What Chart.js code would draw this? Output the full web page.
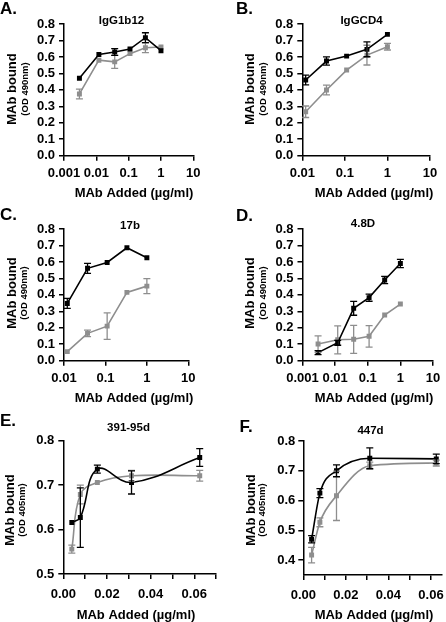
<!DOCTYPE html>
<html>
<head>
<meta charset="utf-8">
<script src="https://cdn.jsdelivr.net/npm/chart.js@4.4.0/dist/chart.umd.min.js"></script>
<style>
html, body { margin: 0; padding: 0; background: #fff; }
#wrap { position: relative; width: 446px; height: 622px; overflow: hidden; }
canvas { position: absolute; }
</style>
</head>
<body>
<div id="wrap">
  <canvas id="chartA" width="223" height="205" style="left:0;top:0"></canvas>
  <canvas id="chartB" width="223" height="205" style="left:223px;top:0"></canvas>
  <canvas id="chartC" width="223" height="205" style="left:0;top:205px"></canvas>
  <canvas id="chartD" width="223" height="205" style="left:223px;top:205px"></canvas>
  <canvas id="chartE" width="223" height="212" style="left:0;top:410px"></canvas>
  <canvas id="chartF" width="223" height="212" style="left:223px;top:410px"></canvas>
</div>
<script>
// A. IgG1b12
const xA = [0.003, 0.012, 0.037, 0.11, 0.33, 1];
const blackA = [0.47, 0.615, 0.63, 0.648, 0.717, 0.638];
const blackErrA = [0, 0, 0.02, 0, 0.03, 0];
const grayA = [0.375, 0.58, 0.57, 0.62, 0.656, 0.66];
const grayErrA = [0.03, 0, 0.04, 0, 0.03, 0];

// B. IgGCD4
const xB = [0.012, 0.037, 0.11, 0.33, 1];
const blackB = [0.46, 0.575, 0.605, 0.646, 0.737];
const blackErrB = [0.03, 0.025, 0, 0.045, 0];
const grayB = [0.267, 0.399, 0.52, 0.611, 0.662];
const grayErrB = [0.035, 0.03, 0, 0.06, 0.02];

// C. 17b
const xC = [0.012, 0.037, 0.11, 0.33, 1];
const blackC = [0.348, 0.561, 0.597, 0.686, 0.625];
const blackErrC = [0.03, 0.03, 0, 0, 0];
const grayC = [0.055, 0.166, 0.21, 0.415, 0.453];
const grayErrC = [0, 0.02, 0.08, 0, 0.045];

// D. 4.8D
const xD = [0.003, 0.012, 0.037, 0.11, 0.33, 1];
const blackD = [0.049, 0.109, 0.318, 0.383, 0.49, 0.59];
const blackErrD = [0.012, 0.015, 0.042, 0.022, 0.022, 0.025];
const grayD = [0.101, 0.127, 0.13, 0.148, 0.277, 0.344];
const grayErrD = [0.05, 0.085, 0.085, 0.065, 0, 0];

// E. 391-95d
const xE = [0.0039, 0.0078, 0.0156, 0.03125, 0.0625];
const blackE = [0.616, 0.627, 0.736, 0.706, 0.762];
const blackErrE = [0, 0.067, 0.009, 0.026, 0.02];
const grayE = [0.556, 0.679, 0.706, 0.721, 0.721];
const grayErrE = [0.009, 0.021, 0, 0.012, 0.012];

// F. 447d
const xF = [0.0039, 0.0078, 0.0156, 0.03125, 0.0625];
const blackF = [0.47, 0.625, 0.70, 0.742, 0.74];
const blackErrF = [0.012, 0.015, 0.02, 0.035, 0.016];
const grayF = [0.417, 0.527, 0.616, 0.717, 0.726];
const grayErrF = [0.026, 0.015, 0.083, 0.012, 0.01];

// tick values and labels
const yTicks08 = [0, 0.1, 0.2, 0.3, 0.4, 0.5, 0.6, 0.7, 0.8];
const yTicksE = [0.5, 0.6, 0.7, 0.8];
const yTicksF = [0.4, 0.5, 0.6, 0.7, 0.8];
const xTicksLog3 = [0.001, 0.01, 0.1, 1, 10];
const xLabelsLog3 = ['0.001', '0.01', '0.1', '1', '10'];
const xTicksLog2 = [0.01, 0.1, 1, 10];
const xLabelsLog2 = ['0.01', '0.1', '1', '10'];
const xTicksE = [0, 0.01, 0.02, 0.03, 0.04, 0.05, 0.06, 0.07];
const xTicksF = [0, 0.01, 0.02, 0.03, 0.04, 0.05, 0.06];
const xLabelsLin = ['0.00', '', '0.02', '', '0.04', '', '0.06', ''];

const FONT = "'Liberation Sans', Arial, Helvetica, sans-serif";
const BLACK = '#000';
const GRAY = '#8e8e8e';

Chart.defaults.font.family = FONT;
Chart.defaults.animation = false;

const errorBars = {
    id: 'errorBars',
    afterDatasetsDraw(chart) {
        const ctx = chart.ctx;
        const xs = chart.scales.x, ys = chart.scales.y;
        for (let d = chart.data.datasets.length - 1; d >= 0; d--) {
            const ds = chart.data.datasets[d];
            if (!ds.err) continue;
            ctx.save();
            ctx.strokeStyle = ds.borderColor;
            ctx.lineWidth = 1.3;
            ds.data.forEach((p, i) => {
                const e = ds.err[i];
                if (!e) return;
                const px = xs.getPixelForValue(p.x);
                const top = ys.getPixelForValue(p.y + e);
                const bot = ys.getPixelForValue(p.y - e);
                ctx.beginPath();
                ctx.moveTo(px, top); ctx.lineTo(px, bot);
                ctx.moveTo(px - 3.5, top); ctx.lineTo(px + 3.5, top);
                ctx.moveTo(px - 3.5, bot); ctx.lineTo(px + 3.5, bot);
                ctx.stroke();
            });
            ctx.restore();
        }
    }
};

// letters, titles and axis titles
function panelText(t) {
    return {
        id: 'panelText',
        afterDraw(chart) {
            const ctx = chart.ctx;
            ctx.save();
            ctx.fillStyle = '#000';
            ctx.textBaseline = 'alphabetic';
            ctx.textAlign = 'left';
            ctx.font = 'bold 17px ' + FONT;
            ctx.fillText(t.letter, t.lx, t.ly);
            ctx.textAlign = 'center';
            ctx.font = 'bold 11.5px ' + FONT;
            ctx.fillText(t.title, t.tx, t.ty);
            ctx.font = 'bold 13px ' + FONT;
            ctx.fillText('MAb Added (\u00b5g/ml)', t.xx, t.xy);
            ctx.save();
            ctx.translate(t.yx, t.yy);
            ctx.rotate(-Math.PI / 2);
            ctx.textBaseline = 'middle';
            ctx.fillText('MAb bound', 0, 0);
            ctx.restore();
            ctx.save();
            ctx.translate(t.sx, t.yy);
            ctx.rotate(-Math.PI / 2);
            ctx.textBaseline = 'middle';
            ctx.font = 'bold 9.5px ' + FONT;
            ctx.fillText(t.sub, 0, 0);
            ctx.restore();
            ctx.restore();
        }
    };
}

function yScale(min, max, ticks, width, pad) {
    return {
        type: 'linear', min, max,
        afterBuildTicks: s => { s.ticks = ticks.map(v => ({ value: v })); },
        afterFit: s => { s.width = width; s.paddingTop = 0; s.paddingBottom = 0; },
        ticks: { callback: v => v.toFixed(1), autoSkip: false, color: '#000', font: { size: 13, weight: 'bold' }, padding: pad },
        grid: { drawOnChartArea: false, tickLength: 5, color: '#000', lineWidth: 1.5 },
        border: { color: '#000', width: 1.5 }
    };
}

function xScale(type, min, max, ticks, labels, height, pad) {
    return {
        type, min, max,
        afterBuildTicks: s => { s.ticks = ticks.map(v => ({ value: v })); },
        afterFit: s => { s.height = height; s.paddingLeft = 0; s.paddingRight = 0; },
        ticks: { callback: (v, i) => labels[i], autoSkip: false, maxRotation: 0, color: '#000', font: { size: 13, weight: 'bold' }, padding: pad },
        grid: { drawOnChartArea: false, tickLength: 5, color: '#000', lineWidth: 1.5 },
        border: { color: '#000', width: 1.5 }
    };
}

function series(xs, ys, errs, color, extra) {
    return Object.assign({
        data: xs.map((x, i) => ({ x, y: ys[i] })),
        err: errs,
        borderColor: color,
        backgroundColor: color,
        borderWidth: 1.6,
        pointStyle: 'rect',
        pointRadius: 3.5,
        pointBorderWidth: 0,
        showLine: true,
        tension: 0
    }, extra || {});
}

function makePanel(id, p) {
    new Chart(document.getElementById(id), {
        type: 'scatter',
        data: {
            datasets: [
                series(p.x, p.black, p.blackErr, BLACK, p.line),
                series(p.x, p.gray, p.grayErr, GRAY, p.line)
            ]
        },
        options: {
            responsive: false,
            layout: { padding: { left: 0, top: p.top, right: p.right, bottom: 0 } },
            plugins: { legend: { display: false }, tooltip: { enabled: false } },
            scales: { x: p.xs, y: p.ys }
        },
        plugins: [errorBars, panelText(p.text)]
    });
}

makePanel('chartA', {
    x: xA, black: blackA, blackErr: blackErrA, gray: grayA, grayErr: grayErrA,
    top: 24, right: 29.7,
    xs: xScale('logarithmic', 0.001, 10, xTicksLog3, xLabelsLog3, 49.3, 5),
    ys: yScale(0, 0.8, yTicks08, 64, 4),
    text: { letter: 'A.', lx: 0, ly: 14, title: 'IgG1b12', tx: 121.5, ty: 24, xx: 134, xy: 197, yx: 12.5, sx: 25, yy: 89, sub: '(OD 490nm)' }
});

makePanel('chartB', {
    x: xB, black: blackB, blackErr: blackErrB, gray: grayB, grayErr: grayErrB,
    top: 24, right: 16,
    xs: xScale('logarithmic', 0.01, 10, xTicksLog2, xLabelsLog2, 49.3, 5),
    ys: yScale(0, 0.8, yTicks08, 79.3, 4),
    text: { letter: 'B.', lx: 13, ly: 14, title: 'IgGCD4', tx: 138.5, ty: 24, xx: 151, xy: 197, yx: 27.5, sx: 40.3, yy: 89, sub: '(OD 490nm)' }
});

makePanel('chartC', {
    x: xC, black: blackC, blackErr: blackErrC, gray: grayC, grayErr: grayErrC,
    top: 24, right: 34.7,
    xs: xScale('logarithmic', 0.01, 10, xTicksLog2, xLabelsLog2, 49.3, 5),
    ys: yScale(0, 0.8, yTicks08, 64, 4),
    text: { letter: 'C.', lx: 0, ly: 15, title: '17b', tx: 130, ty: 23.5, xx: 134, xy: 197, yx: 12.5, sx: 24.5, yy: 88, sub: '(OD 490nm)' }
});

makePanel('chartD', {
    x: xD, black: blackD, blackErr: blackErrD, gray: grayD, grayErr: grayErrD,
    top: 24, right: 13,
    xs: xScale('logarithmic', 0.001, 10, xTicksLog3, xLabelsLog3, 49.3, 5),
    ys: yScale(0, 0.8, yTicks08, 79.5, 4),
    text: { letter: 'D.', lx: 13, ly: 16, title: '4.8D', tx: 140, ty: 22, xx: 151, xy: 197, yx: 27.5, sx: 40.5, yy: 88, sub: '(OD 490nm)' }
});

makePanel('chartE', {
    x: xE, black: blackE, blackErr: blackErrE, gray: grayE, grayErr: grayErrE,
    top: 30.7, right: 6.9, line: { tension: 0.4 },
    xs: xScale('linear', 0, 0.07, xTicksE, xLabelsLin, 48, 8),
    ys: yScale(0.5, 0.8, yTicksE, 63.3, 4),
    text: { letter: 'E.', lx: 0, ly: 16, title: '391-95d', tx: 128.5, ty: 21, xx: 136, xy: 208.5, yx: 10, sx: 22, yy: 100, sub: '(OD 405nm)' }
});

makePanel('chartF', {
    x: xF, black: blackF, blackErr: blackErrF, gray: grayF, grayErr: grayErrF,
    top: 31, right: 4.4, line: { cubicInterpolationMode: 'monotone' },
    xs: xScale('linear', 0, 0.065, xTicksF, xLabelsLin, 47, 8),
    ys: yScale(0.35, 0.8, yTicksF, 80.3, 3),
    text: { letter: 'F.', lx: 16.5, ly: 21.5, title: '447d', tx: 147.5, ty: 24, xx: 151, xy: 208.5, yx: 28, sx: 39.5, yy: 100, sub: '(OD 405nm)' }
});
</script>
</body>
</html>
